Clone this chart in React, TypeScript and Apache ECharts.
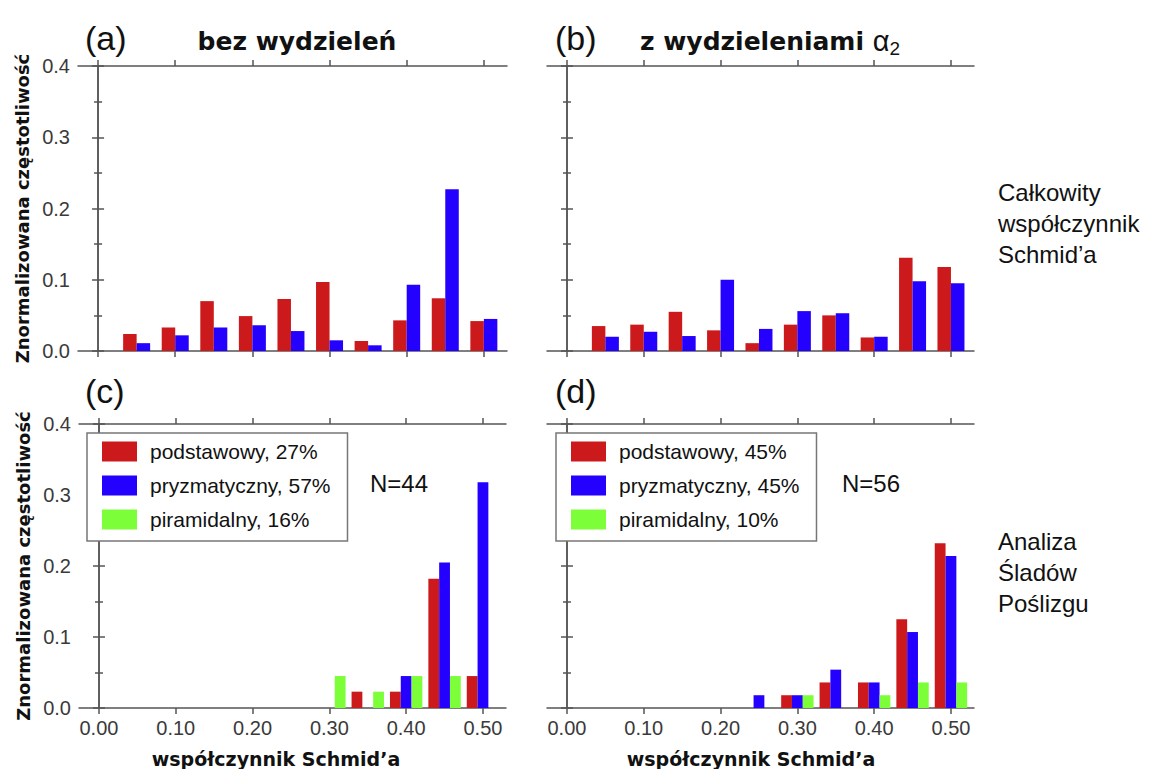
import React, { useEffect, useRef } from "react";
import * as echarts from "echarts";

// ---- data ----
const xTicks = [0, 0.1, 0.2, 0.3, 0.4, 0.5];
const binsTop = [0.05, 0.1, 0.15, 0.2, 0.25, 0.3, 0.35, 0.4, 0.45, 0.5];
const aRed = [0.024, 0.033, 0.07, 0.049, 0.073, 0.097, 0.014, 0.043, 0.074, 0.042];
const aBlue = [0.011, 0.022, 0.033, 0.036, 0.028, 0.015, 0.008, 0.093, 0.227, 0.045];
const bRed = [0.035, 0.037, 0.055, 0.029, 0.011, 0.037, 0.05, 0.019, 0.131, 0.118];
const bBlue = [0.02, 0.027, 0.021, 0.1, 0.031, 0.056, 0.053, 0.02, 0.098, 0.095];
const binsBottom = [0.25, 0.3, 0.35, 0.4, 0.45, 0.5];
const cRed = [0, 0, 0.023, 0.023, 0.182, 0.045];
const cBlue = [0, 0, 0, 0.045, 0.205, 0.318];
const cGreen = [0, 0.045, 0.023, 0.045, 0.045, 0];
const dRed = [0, 0.018, 0.036, 0.036, 0.125, 0.232];
const dBlue = [0.018, 0.018, 0.054, 0.036, 0.107, 0.214];
const dGreen = [0, 0.018, 0, 0.018, 0.036, 0.036];
const legendC = ["podstawowy, 27%", "pryzmatyczny, 57%", "piramidalny, 16%"];
const legendD = ["podstawowy, 45%", "pryzmatyczny, 45%", "piramidalny, 10%"];

const RED = "#CC1A1C";
const BLUE = "#2400FF";
const GREEN = "#7CFF38";
const AXIS = "#555";
const FONT = '"Liberation Sans", Arial, sans-serif';
const BOLD = '"DejaVu Sans", sans-serif';

const grids = [
  { left: 78, top: 66, width: 429, height: 285 },
  { left: 547, top: 66, width: 427, height: 285 },
  { left: 79, top: 424, width: 427, height: 284 },
  { left: 547, top: 424, width: 427, height: 284 },
];

function pairs(xs: number[], ys: number[]) {
  return xs.map((x, i) => [x, ys[i]]).filter((p) => p[1] > 0);
}

function barSeries(name: string, xs: number[], ys: number[], panel: number, color: string, w: number) {
  return {
    type: "bar",
    name,
    xAxisIndex: 2 * panel,
    yAxisIndex: 2 * panel,
    data: pairs(xs, ys),
    barWidth: w,
    barGap: "0%",
    itemStyle: { color },
  };
}

const lineStyle = { color: AXIS, width: 1.5 };

function xAxes(panel: number, labels: boolean) {
  const base = {
    type: "value",
    gridIndex: panel,
    min: -0.026,
    max: 0.53,
    splitLine: { show: false },
    axisLine: { show: true, onZero: false, lineStyle },
    axisTick: { show: true, customValues: xTicks, length: 6, lineStyle },
  };
  return [
    {
      ...base,
      position: "bottom",
      axisLabel: {
        show: labels,
        customValues: xTicks,
        formatter: (v: number) => v.toFixed(2),
        fontSize: 20,
        fontFamily: FONT,
        color: "#3a3a3a",
        margin: 10,
      },
    },
    { ...base, position: "top", axisLabel: { show: false } },
  ];
}

function yAxes(panel: number, labelled: boolean) {
  const base = {
    type: "value",
    gridIndex: panel,
    min: 0,
    max: 0.4,
    interval: 0.1,
    splitLine: { show: false },
    axisLine: { show: true, lineStyle },
    axisTick: { show: true, length: 6, lineStyle },
    minorTick: { show: true, splitNumber: 2, length: 4, lineStyle },
  };
  return [
    {
      ...base,
      position: "left",
      axisLabel: {
        show: labelled,
        formatter: (v: number) => v.toFixed(1),
        fontSize: 20,
        fontFamily: FONT,
        color: "#3a3a3a",
        margin: 8,
      },
      name: labelled ? "Znormalizowana częstotliwość" : "",
      nameLocation: "middle",
      nameRotate: 90,
      nameGap: 47,
      nameTextStyle: { fontFamily: BOLD, fontWeight: "bold", fontSize: 18, color: "#111" },
    },
    { ...base, position: "right", axisLabel: { show: false } },
  ];
}

function legend(left: number, names: string[]) {
  return {
    orient: "vertical",
    left,
    top: 433,
    data: names,
    icon: "rect",
    itemWidth: 35,
    itemHeight: 20,
    itemGap: 13,
    selectedMode: false,
    padding: [8, 17, 11, 15],
    borderColor: "#777",
    borderWidth: 1.5,
    backgroundColor: "#fff",
    textStyle: { fontFamily: FONT, fontSize: 21, color: "#111", padding: [0, 0, 0, 8] },
  };
}

function txt(text: string, x: number, y: number, font: string, align = "left", extra: any = {}) {
  return {
    type: "text",
    x,
    y,
    style: { text, font, fill: "#111", align, verticalAlign: "middle", ...extra },
  };
}

export default function App() {
  const ref = useRef<HTMLDivElement>(null);
  useEffect(() => {
    if (!ref.current) return;
    const chart = echarts.init(ref.current, null, { renderer: "svg" });
    const option: any = {
      animation: false,
      backgroundColor: "#fff",
      grid: grids,
      xAxis: [...xAxes(0, false), ...xAxes(1, false), ...xAxes(2, true), ...xAxes(3, true)],
      yAxis: [...yAxes(0, true), ...yAxes(1, false), ...yAxes(2, true), ...yAxes(3, false)],
      legend: [legend(87, legendC), legend(556, legendD)],
      series: [
        barSeries("podstawowy (a)", binsTop, aRed, 0, RED, 13.5),
        barSeries("pryzmatyczny (a)", binsTop, aBlue, 0, BLUE, 13.5),
        barSeries("podstawowy (b)", binsTop, bRed, 1, RED, 13.5),
        barSeries("pryzmatyczny (b)", binsTop, bBlue, 1, BLUE, 13.5),
        barSeries(legendC[0], binsBottom, cRed, 2, RED, 10.8),
        barSeries(legendC[1], binsBottom, cBlue, 2, BLUE, 10.8),
        barSeries(legendC[2], binsBottom, cGreen, 2, GREEN, 10.8),
        barSeries(legendD[0], binsBottom, dRed, 3, RED, 10.8),
        barSeries(legendD[1], binsBottom, dBlue, 3, BLUE, 10.8),
        barSeries(legendD[2], binsBottom, dGreen, 3, GREEN, 10.8),
      ],
      graphic: [
        txt("(a)", 85, 38, `34px ${FONT}`),
        txt("(b)", 555, 38, `34px ${FONT}`),
        txt("(c)", 85, 391, `34px ${FONT}`),
        txt("(d)", 555, 391, `34px ${FONT}`),
        txt("bez wydzieleń", 297, 41, `bold 25px ${BOLD}`, "center"),
        {
          type: "text",
          x: 770,
          y: 41,
          style: {
            text: "{t|z wydzieleniami }{a|α}{s|2}",
            align: "center",
            verticalAlign: "middle",
            fill: "#111",
            rich: {
              t: { font: `bold 25px ${BOLD}`, fill: "#111" },
              a: { font: `29px ${FONT}`, fill: "#111" },
              s: { font: `19px ${FONT}`, fill: "#111", padding: [14, 0, 0, 0] },
            },
          },
        },
        txt("współczynnik Schmid’a", 276, 759, `bold 19px ${BOLD}`, "center"),
        txt("współczynnik Schmid’a", 751, 759, `bold 19px ${BOLD}`, "center"),
        txt("N=44", 370, 483, `24px ${FONT}`),
        txt("N=56", 842, 483, `24px ${FONT}`),
        txt("Całkowity\nwspółczynnik\nSchmid’a", 998, 223, `24px ${FONT}`, "left", { lineHeight: 31 }),
        txt("Analiza\nŚladów\nPoślizgu", 998, 572, `24px ${FONT}`, "left", { lineHeight: 31 }),
      ],
    };
    chart.setOption(option);
    return () => chart.dispose();
  }, []);
  return (
    <div
      ref={ref}
      style={{ position: "fixed", left: 0, top: 0, width: 1171, height: 769, background: "#fff" }}
    />
  );
}
